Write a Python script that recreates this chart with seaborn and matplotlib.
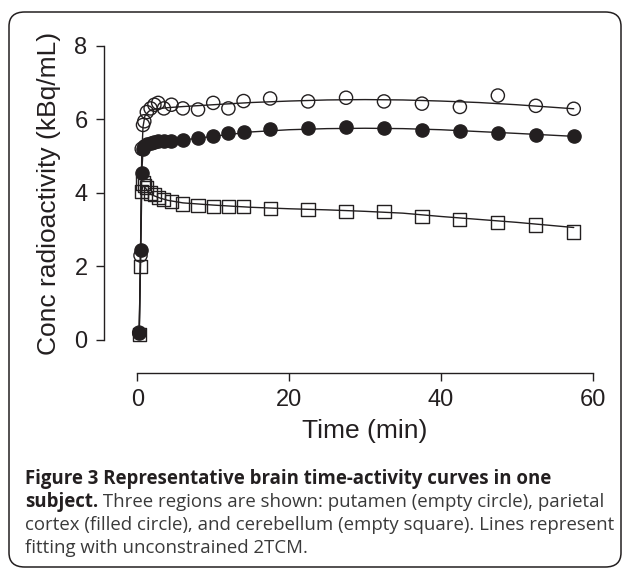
import numpy as np
import pandas as pd
import matplotlib
matplotlib.use("Agg")
import matplotlib.pyplot as plt
import seaborn as sns
from matplotlib.patches import FancyBboxPatch

sns.set_style("ticks")
plt.rcParams['font.family'] = ['Liberation Sans', 'DejaVu Sans']

# frame mid times (min)
time = [0.25, 0.42, 0.58, 0.75, 0.92, 1.25, 1.75, 2.25, 2.75, 3.5, 4.5, 6, 8, 10, 12, 14,
        17.5, 22.5, 27.5, 32.5, 37.5, 42.5, 47.5, 52.5, 57.5]

# measured concentrations (kBq/mL)
putamen = [0.2, 2.3, 5.2, 5.85, 5.95, 6.2, 6.3, 6.4, 6.45, 6.3, 6.4, 6.3, 6.27, 6.45, 6.3, 6.5,
           6.57, 6.49, 6.59, 6.49, 6.43, 6.34, 6.65, 6.37, 6.29]
parietal = [0.2, 2.45, 4.55, 5.2, 5.28, 5.32, 5.36, 5.38, 5.4, 5.4, 5.42, 5.45, 5.5, 5.56, 5.62, 5.65,
            5.74, 5.77, 5.80, 5.77, 5.72, 5.69, 5.63, 5.59, 5.54]
cerebellum = [0.15, 2.0, 4.05, 4.27, 4.2, 4.15, 4.0, 3.95, 3.88, 3.82, 3.77, 3.7, 3.66, 3.64, 3.64, 3.63,
              3.57, 3.54, 3.49, 3.49, 3.35, 3.27, 3.19, 3.13, 2.94]

# fitted curves (2TCM)
fit_time = [0.25, 0.42, 0.58, 0.75, 1, 1.5, 2, 3, 4, 6, 10, 15, 20, 25, 30, 35, 40, 45, 50, 57.5]
fit_putamen = [0.2, 2.3, 5.0, 5.8, 6.1, 6.22, 6.27, 6.3, 6.32, 6.35, 6.4, 6.46, 6.5, 6.53, 6.54,
               6.53, 6.5, 6.46, 6.4, 6.29]
fit_parietal = [0.2, 2.45, 4.55, 5.15, 5.25, 5.32, 5.35, 5.38, 5.4, 5.44, 5.54, 5.66, 5.72, 5.75,
                5.76, 5.75, 5.72, 5.67, 5.62, 5.54]
fit_cerebellum = [0.15, 2.0, 4.05, 4.2, 4.15, 4.02, 3.94, 3.86, 3.8, 3.73, 3.67, 3.61, 3.57, 3.54,
                  3.5, 3.45, 3.36, 3.28, 3.2, 3.06]

ink = '#231f20'

fig = plt.figure(figsize=(6.29, 5.70), dpi=100)
ax = fig.add_axes([104 / 629, 1 - 372.7 / 570, (600.3 - 104) / 629, (372.7 - 39.3) / 570])

for fit in [fit_putamen, fit_parietal, fit_cerebellum]:
    sns.lineplot(x=fit_time, y=fit, ax=ax, color=ink, linewidth=1.0, estimator=None, sort=False)

sns.scatterplot(x=time, y=cerebellum, ax=ax, marker='s', s=9.5 ** 2,
                facecolor='none', edgecolor=ink, linewidth=1.0, zorder=3)
sns.scatterplot(x=time, y=parietal, ax=ax, marker='o', s=9.5 ** 2,
                color=ink, edgecolor=ink, linewidth=1.0, zorder=3)
sns.scatterplot(x=time, y=putamen, ax=ax, marker='o', s=9.5 ** 2,
                facecolor='none', edgecolor=ink, linewidth=1.0, zorder=3)

xlo, xhi = -4.39, 61.0
ylo, yhi = -0.89, 8.18
ax.set_xlim(xlo, xhi)
ax.set_ylim(ylo, yhi)
ax.set_xticks([0, 20, 40, 60])
ax.set_yticks([0, 2, 4, 6, 8])
for side in ['top', 'right']:
    ax.spines[side].set_visible(False)
ax.spines['left'].set_bounds(0, 8)
ax.spines['bottom'].set_bounds(0, 60)
for side in ['left', 'bottom']:
    ax.spines[side].set_color(ink)
    ax.spines[side].set_linewidth(1.0)
ax.tick_params(length=5.8, width=1.0, color=ink, labelsize=17, labelcolor=ink, pad=6.0)
ax.set_xlabel('Time (min)', fontsize=19, color=ink)
ax.set_ylabel('Conc radioactivity (kBq/mL)', fontsize=19, color=ink)
# labels centred on the trimmed spines
ax.xaxis.set_label_coords((30 - xlo) / (xhi - xlo), -0.14)
ax.yaxis.set_label_coords(-0.087, (4 - ylo) / (yhi - ylo))
ax.patch.set_alpha(0)

# rounded frame around the figure
frame = FancyBboxPatch((9 / 629, 3 / 570), 612 / 629, 555 / 570,
                       boxstyle='round,pad=0,rounding_size=0.025',
                       transform=fig.transFigure, facecolor='none',
                       edgecolor=ink, linewidth=1.1, zorder=0)
fig.patches.append(frame)

# caption
cap_font = ['Open Sans', 'DejaVu Sans']
cap_size = 13.4
grey = '#3a3a3a'
x0 = 25 / 629
rows = [479, 502, 525, 548]
fig.text(x0, 1 - rows[0] / 570, 'Figure 3 Representative brain time-activity curves in one',
         family=cap_font, weight='bold', size=cap_size, color=ink, va='center')
bold2 = fig.text(x0, 1 - rows[1] / 570, 'subject.', family=cap_font, weight='bold',
                 size=cap_size, color=ink, va='center')
fig.canvas.draw()
bb = bold2.get_window_extent().transformed(fig.transFigure.inverted())
fig.text(bb.x1, 1 - rows[1] / 570, ' Three regions are shown: putamen (empty circle), parietal',
         family=cap_font, size=cap_size, color=grey, va='center')
fig.text(x0, 1 - rows[2] / 570, 'cortex (filled circle), and cerebellum (empty square). Lines represent',
         family=cap_font, size=cap_size, color=grey, va='center')
fig.text(x0, 1 - rows[3] / 570, 'fitting with unconstrained 2TCM.',
         family=cap_font, size=cap_size, color=grey, va='center')

fig.savefig('out.png', dpi=100)
